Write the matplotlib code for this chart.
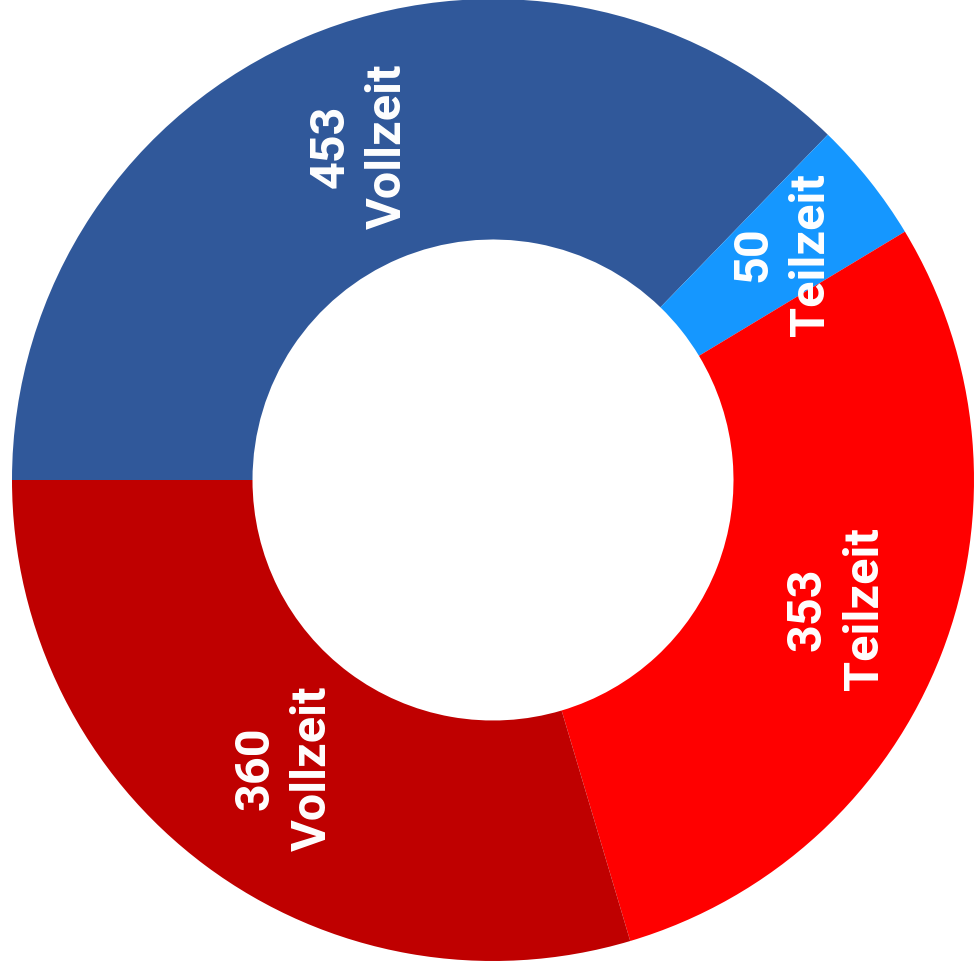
import matplotlib
matplotlib.use("Agg")
import matplotlib.pyplot as plt
import numpy as np

values = [453, 50, 353, 360]
types = ["Vollzeit", "Teilzeit", "Teilzeit", "Vollzeit"]
colors = ["#30589a", "#1597ff", "#ff0000", "#bf0000"]

fig = plt.figure(figsize=(9.76, 9.74), dpi=100)
ax = fig.add_axes([12/976, 13/974, 962/976, 962/974])
wedges, _ = ax.pie(values, colors=colors, startangle=180, counterclock=False,
                   radius=1.0, wedgeprops=dict(width=0.5, linewidth=0))
ax.set_xlim(-1, 1)
ax.set_ylim(-1, 1)
ax.set_aspect("equal")
ax.axis("off")

for w, v, t in zip(wedges, values, types):
    ang = np.deg2rad((w.theta1 + w.theta2) / 2)
    r = 0.75
    ax.annotate(f"{v}\n{t}", xy=(r*np.cos(ang), r*np.sin(ang)),
                xytext=(5, 1), textcoords="offset points", rotation=90,
                ha="center", va="center", multialignment="center",
                color="white", fontsize=35, fontweight="bold", family="Roboto",
                linespacing=1.3)

fig.savefig("out.png", dpi=100)
